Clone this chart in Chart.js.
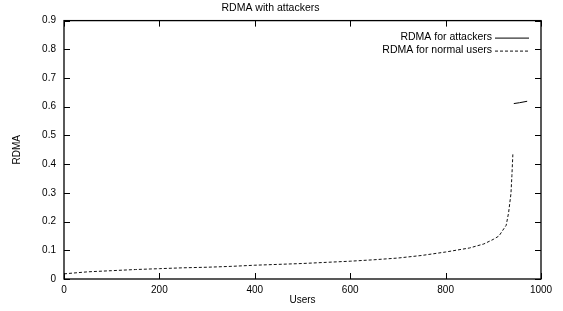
<!DOCTYPE html>
<html><head><meta charset="utf-8">
<script src="https://cdn.jsdelivr.net/npm/chart.js@4.4.0/dist/chart.umd.min.js"></script>
<style>html,body{margin:0;padding:0;background:#fff}#wrap{width:563px;height:311px}</style>
</head><body><div id="wrap"><canvas id="c" width="563" height="311"></canvas></div>
<script>
const titleText = "RDMA with attackers";
const xTitle = "Users";
const yTitle = "RDMA";
const attackerLabel = "RDMA for attackers";
const normalLabel = "RDMA for normal users";
const normalUsers = [0,50,100,150,200,250,300,350,400,450,500,550,600,650,700,750,800,850,880,900,912,920,927,932,937,939,941];
const normalRdma  = [0.018,0.025,0.029,0.033,0.036,0.039,0.041,0.044,0.048,0.051,0.054,0.058,0.062,0.067,0.073,0.082,0.094,0.108,0.122,0.138,0.150,0.170,0.187,0.230,0.297,0.360,0.434];
const attackerUsers = [943,955,971];
const attackerRdma  = [0.611,0.614,0.619];
const xTicks = [0,200,400,600,800,1000];
const yTicks = [0,0.1,0.2,0.3,0.4,0.5,0.6,0.7,0.8,0.9];

const FONT = "'Liberation Sans', Arial, sans-serif";
const toPts = (xs, ys) => xs.map((x,i)=>({x:x, y:ys[i]}));

const framePlugin = {
  id:'frame',
  afterDatasetsDraw(chart){
    const {ctx, chartArea:a, scales:{x,y}} = chart;
    ctx.save();
    ctx.strokeStyle='#000'; ctx.lineWidth=1.3;
    ctx.strokeRect(a.left, a.top, a.right-a.left, a.bottom-a.top);
    ctx.lineWidth=1;
    const L=6;
    ctx.beginPath();
    xTicks.forEach(v=>{const px=Math.round(x.getPixelForValue(v))+0.5;
      ctx.moveTo(px,a.bottom); ctx.lineTo(px,a.bottom-L);
      ctx.moveTo(px,a.top); ctx.lineTo(px,a.top+L);});
    yTicks.forEach(v=>{const py=Math.round(y.getPixelForValue(v))+0.5;
      ctx.moveTo(a.left,py); ctx.lineTo(a.left+L,py);
      ctx.moveTo(a.right,py); ctx.lineTo(a.right-L,py);});
    ctx.stroke();
    // legend (gnuplot style: text then sample)
    ctx.font = "10.5px "+FONT; ctx.fillStyle='#000';
    ctx.textAlign='right'; ctx.textBaseline='middle';
    const tx = a.right-49, sx0 = a.right-46, sx1 = a.right-12;
    chart.data.datasets.forEach((ds,i)=>{
      const yy = a.top+17+i*13;
      ctx.fillText(ds.label, tx, yy);
      ctx.beginPath();
      ctx.setLineDash(ds.borderDash||[]);
      ctx.strokeStyle=ds.borderColor; ctx.lineWidth=ds.borderWidth;
      ctx.moveTo(sx0, yy+0.5); ctx.lineTo(sx1, yy+0.5); ctx.stroke();
    });
    ctx.setLineDash([]);
    ctx.restore();
  }
};

new Chart(document.getElementById('c'), {
  type:'scatter',
  data:{datasets:[
    {label:attackerLabel, data:toPts(attackerUsers, attackerRdma), showLine:true, borderColor:'#000', borderWidth:1, pointRadius:0, fill:false},
    {label:normalLabel, data:toPts(normalUsers, normalRdma), showLine:true, borderColor:'#111', borderWidth:1, borderDash:[3,2], pointRadius:0, fill:false}
  ]},
  options:{
    responsive:false, animation:false,
    layout:{padding:{left:0,right:22,top:0,bottom:0}},
    plugins:{
      legend:{display:false}, tooltip:{enabled:false},
      title:{display:true, text:titleText, color:'#000', font:{family:FONT,size:10.5,weight:'normal'}, padding:{top:2,bottom:6}}
    },
    scales:{
      x:{type:'linear', min:0, max:1000,
         afterBuildTicks(s){s.ticks = xTicks.map(v=>({value:v}));},
         afterFit(s){s.height=32;},
         grid:{display:false, drawTicks:false}, border:{display:false},
         ticks:{color:'#000', padding:5, maxRotation:0, font:{family:FONT,size:10}, callback:v=>String(v)},
         title:{display:true, text:xTitle, color:'#000', font:{family:FONT,size:10}, padding:{top:0,bottom:5}}},
      y:{type:'linear', min:0, max:0.9,
         afterBuildTicks(s){s.ticks = yTicks.map(v=>({value:v}));},
         afterFit(s){s.width=64;},
         grid:{display:false, drawTicks:false}, border:{display:false},
         ticks:{color:'#000', padding:8, font:{family:FONT,size:10}, callback:v=>String(Math.round(v*10)/10)},
         title:{display:true, text:yTitle, color:'#000', font:{family:FONT,size:10}, padding:{top:11,bottom:0}}}
    }
  },
  plugins:[framePlugin]
});
</script></body></html>
